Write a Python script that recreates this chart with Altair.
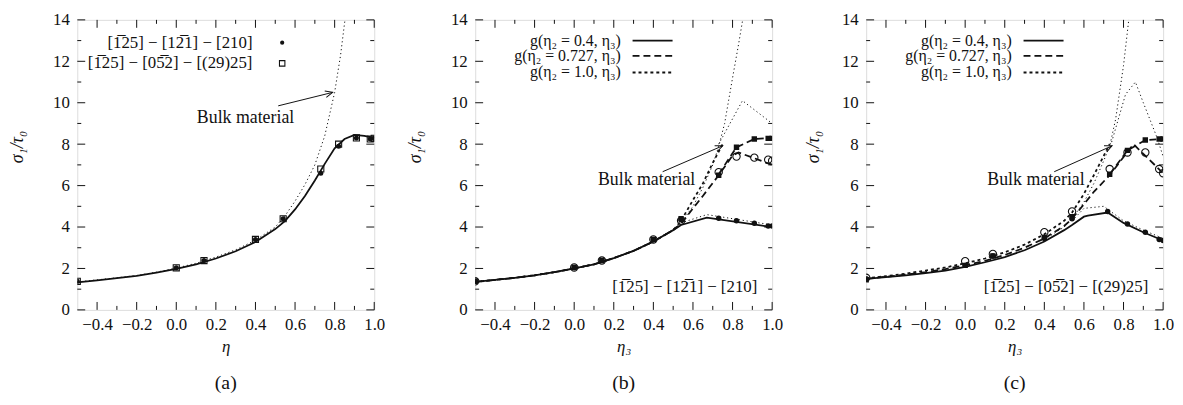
import math
import altair as alt
import pandas as pd

# ---------------- data ----------------
X_MAJOR = [-0.4, -0.2, 0.0, 0.2, 0.4, 0.6, 0.8, 1.0]
X_MINOR = [-0.3, -0.1, 0.1, 0.3, 0.5, 0.7, 0.9]
Y_MAJOR = [0, 2, 4, 6, 8, 10, 12, 14]
Y_MINOR = [1, 3, 5, 7, 9, 11, 13]
X_DOMAIN = [-0.5, 1.0]
Y_DOMAIN = [0, 14]

MX = [-0.5, 0.0, 0.14, 0.4, 0.54, 0.73, 0.82, 0.91, 0.98, 1.0]

# panel (a)
a_model_x = [-0.5, -0.4, -0.3, -0.2, -0.1, 0.0, 0.1, 0.2, 0.3, 0.4, 0.5, 0.55, 0.6, 0.65, 0.7, 0.75, 0.8, 0.85, 0.9, 0.95, 1.0]
a_model_y = [1.33, 1.43, 1.53, 1.64, 1.8, 1.98, 2.2, 2.48, 2.83, 3.28, 3.9, 4.3, 4.85, 5.5, 6.25, 7.05, 7.8, 8.25, 8.45, 8.4, 8.3]
a_bulk_x = [-0.5, -0.4, -0.3, -0.2, -0.1, 0.0, 0.1, 0.2, 0.3, 0.4, 0.5, 0.55, 0.6, 0.65, 0.7, 0.75, 0.8, 0.83, 0.86]
a_bulk_y = [1.35, 1.45, 1.55, 1.66, 1.82, 2.02, 2.25, 2.55, 2.9, 3.36, 4.0, 4.55, 5.25, 6.05, 7.0, 8.4, 10.5, 12.3, 14.6]
a_dots_y = [1.38, 2.03, 2.38, 3.4, 4.4, 6.6, 7.9, 8.3, 8.25, 8.28]
a_squares_y = [1.38, 2.03, 2.38, 3.4, 4.4, 6.8, 8.0, 8.3, 8.25, 8.28]

# panel (b)
BASE_X = [-0.5, -0.4, -0.3, -0.2, -0.1, 0.0, 0.1, 0.2, 0.3, 0.4, 0.5]
b_base_y = [1.35, 1.45, 1.55, 1.67, 1.82, 2.0, 2.2, 2.5, 2.85, 3.3, 3.85]
b_solid_x = BASE_X + [0.54, 0.67, 1.0]
b_solid_y = b_base_y + [4.1, 4.45, 4.0]
b_dash_x = BASE_X + [0.54, 0.6, 0.65, 0.73, 0.8, 0.83, 1.0]
b_dash_y = b_base_y + [4.15, 4.9, 5.5, 6.5, 7.45, 7.6, 7.0]
b_dot_x = BASE_X + [0.54, 0.6, 0.65, 0.7, 0.75]
b_dot_y = b_base_y + [4.3, 5.3, 6.1, 7.1, 8.0]
b_bulk_x = [0.5, 0.54, 0.6, 0.65, 0.7, 0.73, 0.76, 0.8, 0.83, 0.86]
b_bulk_y = [3.9, 4.2, 5.0, 5.9, 7.0, 7.9, 9.0, 11.2, 12.8, 14.5]
b_peak_x = [0.73, 0.85, 1.0]
b_peak_y = [8.0, 10.1, 9.0]
b_low_x = [0.54, 0.67, 1.0]
b_low_y = [4.2, 4.6, 4.1]
b_sqline_x = [0.73, 0.82, 0.91, 1.0]
b_sqline_y = [6.55, 7.85, 8.25, 8.3]
b_dots_y = [1.38, 2.05, 2.38, 3.4, 4.35, 4.42, 4.3, 4.18, 4.05, 4.05]
b_circles_y = [1.38, 2.05, 2.38, 3.4, 4.3, 6.65, 7.4, 7.35, 7.25, 7.2]
b_squares_y = [1.38, 2.05, 2.38, 3.4, 4.4, 6.5, 7.85, 8.25, 8.28, 8.28]

# panel (c)
c_solid_x = BASE_X + [0.54, 0.6, 0.62, 0.72, 0.8, 0.9, 1.0]
c_solid_y = [1.5, 1.58, 1.67, 1.77, 1.9, 2.08, 2.3, 2.55, 2.88, 3.3, 3.85, 4.1, 4.5, 4.55, 4.7, 4.2, 3.75, 3.35]
c_dash_x = BASE_X + [0.54, 0.6, 0.65, 0.73, 0.85, 1.0]
c_dash_y = [1.5, 1.6, 1.7, 1.82, 1.97, 2.15, 2.37, 2.65, 3.0, 3.45, 4.05, 4.4, 5.1, 5.7, 6.5, 8.0, 6.6]
c_dot_x = BASE_X + [0.54, 0.6, 0.65, 0.73]
c_dot_y = [1.52, 1.63, 1.75, 1.9, 2.05, 2.25, 2.48, 2.78, 3.15, 3.65, 4.3, 4.7, 5.6, 6.5, 8.0]
c_bulk_x = [0.4, 0.5, 0.54, 0.6, 0.65, 0.7, 0.73, 0.76, 0.8, 0.83]
c_bulk_y = [3.4, 4.0, 4.4, 5.2, 6.1, 7.2, 7.9, 9.2, 11.8, 14.3]
c_peak_x = [0.74, 0.81, 0.86, 0.9, 0.97, 1.0]
c_peak_y = [8.1, 10.4, 11.0, 10.0, 8.3, 7.4]
c_low_x = [0.54, 0.6, 0.7, 0.8, 0.9, 1.0]
c_low_y = [4.3, 4.9, 5.0, 4.3, 3.85, 3.45]
c_sqline_x = [0.73, 0.82, 0.91, 1.0]
c_sqline_y = [6.55, 7.7, 8.2, 8.25]
c_dots_x = [-0.5, 0.0, 0.14, 0.4, 0.54, 0.72, 0.82, 0.91, 0.98, 1.0]
c_dots_y = [1.5, 2.15, 2.6, 3.45, 4.4, 4.75, 4.15, 3.75, 3.4, 3.35]
c_circles_y = [1.55, 2.35, 2.7, 3.75, 4.75, 6.8, 7.6, 7.6, 6.8, 6.6]
c_squares_y = [1.45, 2.15, 2.6, 3.5, 4.5, 6.55, 7.7, 8.2, 8.25, 8.25]

# texts
Y_TITLE = "σ₁/τ₀"
X_TITLES = ["η", "η₃", "η₃"]
CAPTIONS = ["(a)", "(b)", "(c)"]
BULK_LABEL = "Bulk material"
A_LEGEND = ["[1̅25] − [12̅1] − [210]", "[1̅25] − [05̅2] − [(29)25]"]
G_LEGEND = ["g(η₂ = 0.4, η₃)", "g(η₂ = 0.727, η₃)", "g(η₂ = 1.0, η₃)"]
B_NOTE = "[1̅25] − [12̅1] − [210]"
C_NOTE = "[1̅25] − [05̅2] − [(29)25]"

# annotation anchors (data coords)
a_arrow = [0.515, 9.85, 0.79, 10.5]
b_arrow = [0.447, 6.67, 0.75, 7.92]
c_arrow = [0.45, 6.67, 0.742, 7.92]
a_bulk_text = [0.35, 9.24]
b_bulk_text = [0.366, 6.27]
c_bulk_text = [0.358, 6.27]
a_leg_text_x, a_leg_sym_x, a_leg_y = 0.385, 0.535, [12.9, 11.9]
g_leg_text_x, g_leg_line_x, g_leg_line_x2, g_leg_y = 0.235, 0.295, 0.497, [13.0, 12.26, 11.46]
note_x, note_y = 0.925, 1.08

# ---------------- styling ----------------
W, H = 300, 293
FONT = "'Liberation Serif', 'DejaVu Serif', serif"
INK = "#111"
DASH = [7, 4]
DOT = [3, 3]
THIN = [1.2, 2.8]
FS = 17

xs = alt.Scale(domain=X_DOMAIN, nice=False, zero=False)
ys = alt.Scale(domain=Y_DOMAIN, nice=False)


def xaxis(title):
    return alt.Axis(values=X_MAJOR, format=".1f", ticks=False, domain=False, grid=False,
                    labelFlush=False, labelPadding=7, labelFont=FONT, labelFontSize=FS,
                    labelColor=INK, title=title, titleFont=FONT, titleFontSize=FS,
                    titleFontStyle="italic", titleFontWeight="normal", titleColor=INK,
                    titlePadding=6)


def yaxis(tx):
    return alt.Axis(values=Y_MAJOR, format="d", ticks=False, domain=False, grid=False,
                    labelFlush=False, labelPadding=8, labelFont=FONT, labelFontSize=FS,
                    labelColor=INK, title=Y_TITLE, titleFont=FONT, titleFontSize=18,
                    titleFontStyle="italic", titleFontWeight="normal", titleColor=INK,
                    titleX=tx, titleY=128, titleAngle=270, titleAlign="center",
                    titleBaseline="middle")


def frame_ticks(xax, yax):
    layers = []
    for vals, ln in ((X_MAJOR, 8), (X_MINOR, 4)):
        d = pd.DataFrame({"v": vals})
        xe = alt.X("v:Q", scale=xs, axis=xax)
        layers.append(alt.Chart(d).mark_rule(color=INK, strokeWidth=1).encode(
            x=xe, y=alt.value(H), y2=alt.value(H - ln)))
        layers.append(alt.Chart(d).mark_rule(color=INK, strokeWidth=1).encode(
            x=xe, y=alt.value(0), y2=alt.value(ln)))
    for vals, ln in ((Y_MAJOR, 8), (Y_MINOR, 4)):
        d = pd.DataFrame({"v": vals})
        ye = alt.Y("v:Q", scale=ys, axis=yax)
        layers.append(alt.Chart(d).mark_rule(color=INK, strokeWidth=1).encode(
            y=ye, x=alt.value(0), x2=alt.value(ln)))
        layers.append(alt.Chart(d).mark_rule(color=INK, strokeWidth=1).encode(
            y=ye, x=alt.value(W), x2=alt.value(W - ln)))
    return layers


def line_layer(xv, yv, dash, width, xax, yax):
    d = pd.DataFrame({"x": xv, "y": yv, "i": range(len(xv))})
    kw = dict(color=INK, strokeWidth=width, clip=True)
    if dash:
        kw["strokeDash"] = dash
    return alt.Chart(d).mark_line(**kw).encode(
        x=alt.X("x:Q", scale=xs, axis=xax), y=alt.Y("y:Q", scale=ys, axis=yax),
        order="i:Q")


def point_layer(xv, yv, shape, filled, size, xax, yax):
    d = pd.DataFrame({"x": xv, "y": yv})
    kw = dict(shape=shape, size=size, filled=filled, color=INK, opacity=1, clip=True)
    if not filled:
        kw["strokeWidth"] = 1.1
    return alt.Chart(d).mark_point(**kw).encode(
        x=alt.X("x:Q", scale=xs, axis=xax), y=alt.Y("y:Q", scale=ys, axis=yax))


def text_layer(xv, yv, texts, align, xax, yax, size=FS, style="normal"):
    d = pd.DataFrame({"x": xv, "y": yv, "t": texts})
    return alt.Chart(d).mark_text(align=align, baseline="middle", font=FONT, fontSize=size,
                                  fontStyle=style, color=INK).encode(
        x=alt.X("x:Q", scale=xs, axis=xax), y=alt.Y("y:Q", scale=ys, axis=yax), text="t:N")


def arrow_layers(arr, xax, yax):
    x1, y1, x2, y2 = arr
    d = pd.DataFrame({"x": [x1], "y": [y1], "x2": [x2], "y2": [y2]})
    dxp = (x2 - x1) * W / (X_DOMAIN[1] - X_DOMAIN[0])
    dyp = -(y2 - y1) * H / (Y_DOMAIN[1] - Y_DOMAIN[0])
    ang = math.degrees(math.atan2(dyp, dxp)) % 360
    shaft = alt.Chart(d).mark_rule(color=INK, strokeWidth=1).encode(
        x=alt.X("x:Q", scale=xs, axis=xax), y=alt.Y("y:Q", scale=ys, axis=yax),
        x2="x2:Q", y2="y2:Q")
    head = alt.Chart(d).mark_point(shape="M -1 -0.45 L 0 0 L -1 0.45", filled=False,
                                   color=INK, strokeWidth=1, size=220, angle=ang,
                                   opacity=1).encode(
        x=alt.X("x2:Q", scale=xs, axis=xax), y=alt.Y("y2:Q", scale=ys, axis=yax))
    return [shaft, head]


def caption(t):
    return alt.Title(t, orient="bottom", font=FONT, fontSize=20, fontWeight="normal",
                     color=INK, offset=19, anchor="middle")


# ---------------- panel (a) ----------------
xa, ya = xaxis(X_TITLES[0]), yaxis(-60)
la = frame_ticks(xa, ya)
la += [
    line_layer(a_bulk_x, a_bulk_y, THIN, 1, xa, ya),
    line_layer(a_model_x, a_model_y, None, 1.8, xa, ya),
    point_layer(MX, a_squares_y, "square", False, 38, xa, ya),
    point_layer(MX, a_dots_y, "circle", True, 26, xa, ya),
    text_layer([a_leg_text_x] * 2, a_leg_y, A_LEGEND, "right", xa, ya),
    point_layer([a_leg_sym_x], [a_leg_y[0]], "circle", True, 18, xa, ya),
    point_layer([a_leg_sym_x], [a_leg_y[1]], "square", False, 30, xa, ya),
    text_layer([a_bulk_text[0]], [a_bulk_text[1]], [BULK_LABEL], "center", xa, ya, size=18),
] + arrow_layers(a_arrow, xa, ya)
panel_a = alt.layer(*la).properties(width=W, height=H, title=caption(CAPTIONS[0]))


def g_legend(xax, yax):
    out = [text_layer([g_leg_text_x] * 3, g_leg_y, G_LEGEND, "right", xax, yax, size=16)]
    for yy, dash in zip(g_leg_y, (None, DASH, DOT)):
        out.append(line_layer([g_leg_line_x, g_leg_line_x2], [yy, yy], dash, 1.8, xax, yax))
    return out


# ---------------- panel (b) ----------------
xb, yb = xaxis(X_TITLES[1]), yaxis(-60)
lb = frame_ticks(xb, yb)
lb += [
    line_layer(b_bulk_x, b_bulk_y, THIN, 1, xb, yb),
    line_layer(b_peak_x, b_peak_y, THIN, 1, xb, yb),
    line_layer(b_low_x, b_low_y, THIN, 1, xb, yb),
    line_layer(b_solid_x, b_solid_y, None, 1.8, xb, yb),
    line_layer(b_dash_x, b_dash_y, DASH, 1.8, xb, yb),
    line_layer(b_dot_x, b_dot_y, DOT, 1.8, xb, yb),
    line_layer(b_sqline_x, b_sqline_y, DASH, 1.8, xb, yb),
    point_layer(MX, b_circles_y, "circle", False, 55, xb, yb),
    point_layer(MX, b_squares_y, "square", True, 30, xb, yb),
    point_layer(MX, b_dots_y, "circle", True, 30, xb, yb),
    text_layer([b_bulk_text[0]], [b_bulk_text[1]], [BULK_LABEL], "center", xb, yb, size=18),
    text_layer([note_x], [note_y], [B_NOTE], "right", xb, yb),
] + arrow_layers(b_arrow, xb, yb) + g_legend(xb, yb)
panel_b = alt.layer(*lb).properties(width=W, height=H, title=caption(CAPTIONS[1]))

# ---------------- panel (c) ----------------
xc, yc = xaxis(X_TITLES[2]), yaxis(-53)
lc = frame_ticks(xc, yc)
lc += [
    line_layer(c_bulk_x, c_bulk_y, THIN, 1, xc, yc),
    line_layer(c_peak_x, c_peak_y, THIN, 1, xc, yc),
    line_layer(c_low_x, c_low_y, THIN, 1, xc, yc),
    line_layer(c_solid_x, c_solid_y, None, 1.8, xc, yc),
    line_layer(c_dash_x, c_dash_y, DASH, 1.8, xc, yc),
    line_layer(c_dot_x, c_dot_y, DOT, 1.8, xc, yc),
    line_layer(c_sqline_x, c_sqline_y, DASH, 1.8, xc, yc),
    point_layer(MX, c_circles_y, "circle", False, 55, xc, yc),
    point_layer(MX, c_squares_y, "square", True, 30, xc, yc),
    point_layer(c_dots_x, c_dots_y, "circle", True, 30, xc, yc),
    text_layer([c_bulk_text[0]], [c_bulk_text[1]], [BULK_LABEL], "center", xc, yc, size=18),
    text_layer([note_x], [note_y], [C_NOTE], "right", xc, yc),
] + arrow_layers(c_arrow, xc, yc) + g_legend(xc, yc)
panel_c = alt.layer(*lc).properties(width=W, height=H, title=caption(CAPTIONS[2]))

chart = alt.hconcat(panel_a, panel_b, panel_c, spacing=20).properties(
    padding={"left": 0, "top": 0, "right": 0, "bottom": 0}
).configure_view(stroke=INK, strokeWidth=1.5).configure(background="white")

chart.save("out.html", embed_options={"renderer": "svg", "actions": False})
